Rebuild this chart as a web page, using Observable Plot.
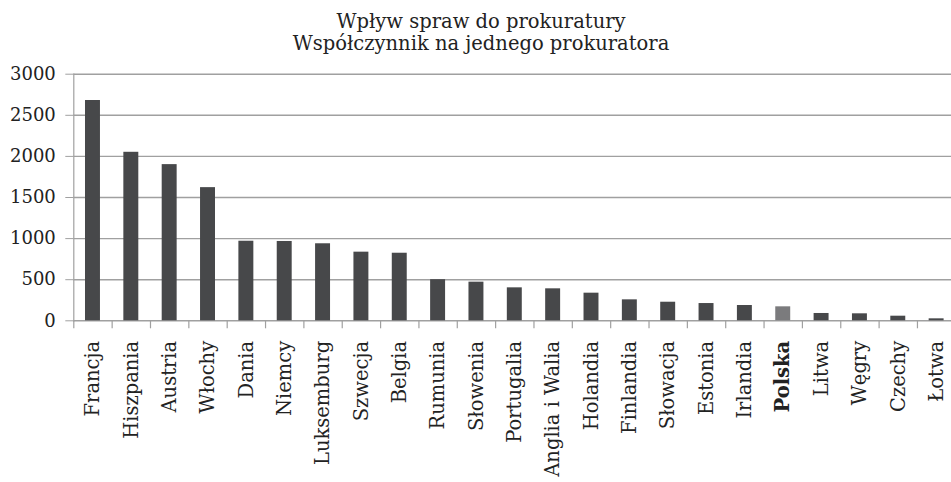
<!DOCTYPE html>
<html>
<head>
<meta charset="utf-8">
<script src="https://cdn.jsdelivr.net/npm/d3@7"></script>
<script src="https://cdn.jsdelivr.net/npm/@observablehq/plot@0.6"></script>
<style>
  html, body { margin: 0; padding: 0; background: white; }
  #wrap { position: relative; width: 951px; height: 482px; overflow: hidden; }
  #title { position: absolute; left: 0; top: 11px; width: 962px; text-align: center;
           font-family: "DejaVu Serif", serif; font-size: 19.5px; line-height: 22px; color: #222; }
  #chart { position: absolute; left: 0; top: 55px; }
</style>
</head>
<body>
<div id="wrap">
  <div id="title">Wpływ spraw do prokuratury<br>Współczynnik na jednego prokuratora</div>
  <div id="chart"></div>
</div>
<script>
const countries = ["Francja","Hiszpania","Austria","Włochy","Dania","Niemcy","Luksemburg","Szwecja","Belgia","Rumunia","Słowenia","Portugalia","Anglia i Walia","Holandia","Finlandia","Słowacja","Estonia","Irlandia","Polska","Litwa","Węgry","Czechy","Łotwa"];
const values = [2680,2050,1900,1620,968,965,937,835,822,500,470,401,389,336,255,226,210,186,170,89,85,56,24];
const highlight = "Polska";
const yTicks = [0,500,1000,1500,2000,2500,3000];

const data = countries.map((c, i) => ({country: c, value: values[i]}));

const W = 951, H = 427;
const mL = 73.3, mR = -4.3, mT = 18.7, mB = 161.7;
const step = (W - mL - mR) / countries.length;
const grid = "#a0a0a0";

const chart = Plot.plot({
  width: W, height: H,
  marginLeft: mL, marginRight: mR, marginTop: mT, marginBottom: mB,
  style: {fontFamily: "DejaVu Serif", background: "white", color: "#222"},
  x: {domain: countries, paddingInner: 0.61, paddingOuter: 0.305, round: false, label: null, axis: null},
  y: {domain: [0, 3000], label: null, axis: null},
  marks: [
    Plot.ruleY(yTicks, {stroke: grid, strokeWidth: 1.4}),
    Plot.barY(data, {x: "country", y: "value", fill: d => d.country === highlight ? "#7b7b7d" : "#47484a"}),
    Plot.ruleX(countries, {x: d => d, dx: -step / 2, y1: 0, y2: 0, insetBottom: -8, stroke: grid, strokeWidth: 1.2}),
    Plot.frame({anchor: "left", stroke: grid, strokeWidth: 1.2}),
    Plot.axisY(yTicks, {tickSize: 8, tickPadding: 10, stroke: grid, fill: "#222", fontSize: 18, label: null, tickFormat: d => String(d)}),
    Plot.axisX(countries.filter(c => c !== highlight), {tickSize: 0, tickPadding: 20, tickRotate: -90, fontSize: 19.5, fill: "#222", label: null}),
    Plot.axisX([highlight], {tickSize: 0, tickPadding: 20, tickRotate: -90, fontSize: 19.5, fontWeight: "bold", fill: "#222", label: null})
  ]
});
document.getElementById("chart").appendChild(chart);
</script>
</body>
</html>
